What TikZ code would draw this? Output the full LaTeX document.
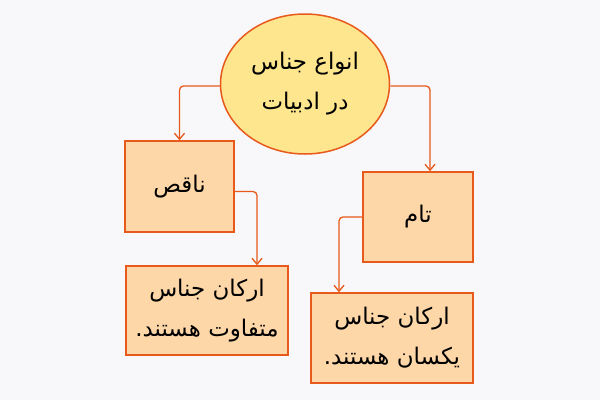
\documentclass[tikz,border=0pt]{standalone}
\usepackage{fontspec}
\newfontfamily\fafont[Script=Arabic]{DejaVu Sans}
\TeXXeTstate=1
\usetikzlibrary{arrows.meta,shapes.geometric}
\definecolor{bgc}{HTML}{F8F8FA}
\definecolor{edge}{HTML}{E8591C}
\definecolor{boxfill}{HTML}{FDD7A8}
\definecolor{ovalfill}{HTML}{FDE68E}
\tikzset{
    txt/.style={font=\fafont\fontsize{23}{40}\selectfont, align=center, text=black},
    oval/.style={txt, ellipse, draw=edge, fill=ovalfill, line width=1.5bp, minimum width=169bp, minimum height=140bp, inner sep=0pt},
    box/.style={txt, rectangle, draw=edge, fill=boxfill, line width=1.5bp, inner sep=0pt},
    arr/.style={->, draw=edge, line width=1.3bp, rounded corners=4bp}
}
\begin{document}
\begin{tikzpicture}[x=1bp,y=-1bp,>={Straight Barb[length=6bp,width=10bp]}]
\useasboundingbox[fill=bgc] (0,0) rectangle (600,400);
\node[oval] (anva) at (305,84) {\beginR انواع جناس\endR\\\beginR در ادبیات\endR};
\node[box, minimum width=109bp, minimum height=91bp] (naqes) at (179.5,186.5) {\beginR ناقص\endR};
\node[box, minimum width=110bp, minimum height=90bp] (tam) at (418,217) {\beginR تام\endR};
\node[box, minimum width=162bp, minimum height=89bp] (motafavet) at (207,310.5) {\beginR ارکان جناس\endR\\\beginR متفاوت هستند.\endR};
\node[box, minimum width=162bp, minimum height=90bp] (yeksan) at (392,338) {\beginR ارکان جناس\endR\\\beginR یکسان هستند.\endR};

\draw[arr] ([yshift=-2bp]anva.west) -| (naqes.north);
\draw[arr] ([yshift=-2bp]anva.east) -| ([xshift=12bp]tam.north);
\draw[arr] ([yshift=-5bp]naqes.east) -| ([xshift=50bp]motafavet.north);
\draw[arr] (tam.west) -| ([xshift=-53bp]yeksan.north);
\end{tikzpicture}
\end{document}
